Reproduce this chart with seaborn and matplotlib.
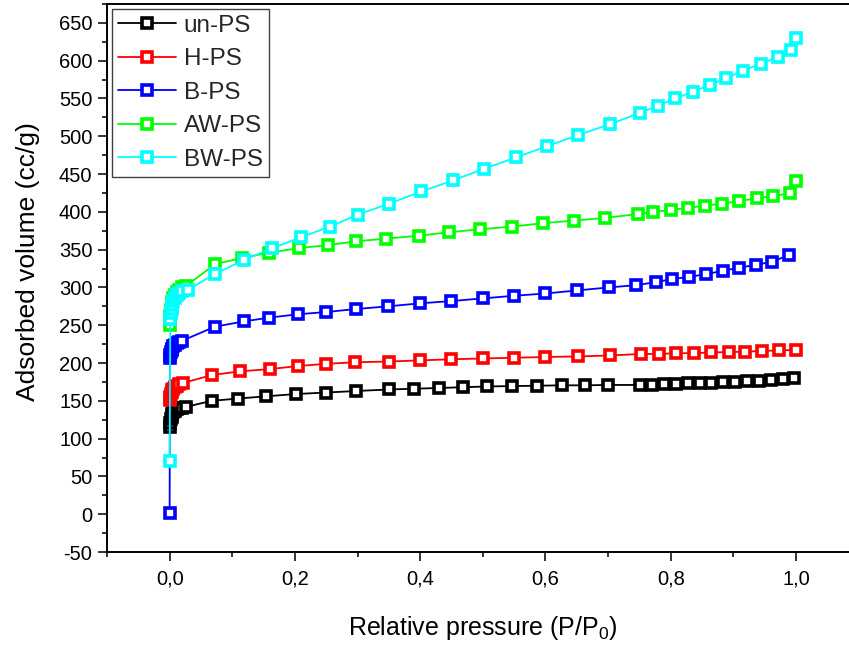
import matplotlib
matplotlib.use("Agg")
import matplotlib.pyplot as plt
import seaborn as sns
from matplotlib.ticker import MultipleLocator, FuncFormatter

# ---------------------------------------------------------
# data
# ---------------------------------------------------------
p_un = [0.0005, 0.001, 0.002, 0.003, 0.004, 0.006, 0.008, 0.011, 0.015, 0.020, 0.026,
        0.067, 0.109, 0.154, 0.202, 0.250, 0.298, 0.350, 0.390, 0.430, 0.468, 0.507,
        0.546, 0.586, 0.626, 0.663, 0.700, 0.751, 0.770, 0.789, 0.808, 0.827, 0.846,
        0.865, 0.884, 0.903, 0.922, 0.941, 0.960, 0.979, 0.997]
v_un = [116, 121, 126, 129, 132, 135, 137, 139, 140, 141, 142,
        150, 153, 156, 159, 161, 163, 165, 166, 167, 168, 169,
        169.5, 170, 170.5, 170.5, 171, 171, 171.5, 172, 172.5, 173, 173.5,
        174, 174.7, 175.3, 176, 176.8, 177.5, 178.3, 180]

p_h = [0.0005, 0.001, 0.002, 0.003, 0.004, 0.006, 0.008, 0.011, 0.015, 0.021,
       0.067, 0.112, 0.160, 0.205, 0.250, 0.296, 0.350, 0.400, 0.450, 0.500, 0.550,
       0.600, 0.652, 0.703, 0.753, 0.781, 0.809, 0.837, 0.865, 0.893, 0.918, 0.945,
       0.973, 1.000]
v_h = [151, 155, 159, 162, 164, 166, 168, 170, 172, 173.5,
       184, 189, 192, 196, 199, 201, 202, 203.5, 205, 206, 207,
       208, 208.7, 210, 212, 212, 213, 213, 214, 214.5, 215, 216,
       216.6, 217.5]

p_b = [0.0, 0.0005, 0.001, 0.002, 0.003, 0.004, 0.006, 0.008, 0.011, 0.015, 0.020,
       0.072, 0.118, 0.158, 0.205, 0.250, 0.298, 0.349, 0.400, 0.450, 0.500, 0.550,
       0.600, 0.650, 0.701, 0.745, 0.776, 0.802, 0.829, 0.856, 0.883, 0.909, 0.936,
       0.962, 0.989]
v_b = [2, 206, 210, 214, 217, 219, 222, 224, 226, 228, 229.5,
       248, 255, 260, 264.5, 267.5, 271.5, 275, 279, 282, 285.5, 289,
       292, 296, 300, 303, 307, 311, 314, 317.5, 322, 326, 330,
       334, 343]

p_aw = [0.0005, 0.001, 0.002, 0.003, 0.004, 0.006, 0.008, 0.011, 0.015, 0.020, 0.026,
        0.073, 0.116, 0.159, 0.206, 0.253, 0.297, 0.345, 0.398, 0.446, 0.496, 0.547,
        0.596, 0.646, 0.695, 0.747, 0.772, 0.801, 0.828, 0.854, 0.882, 0.909, 0.937,
        0.964, 0.990, 1.000]
v_aw = [250, 262, 270, 276, 281, 286, 290, 294, 297, 300, 302,
        331, 339, 346, 352, 356, 361, 364.5, 368.5, 373, 377, 380.5,
        385, 388.5, 392, 397, 400, 402.5, 405.5, 408, 411, 414, 418,
        421, 424.5, 441]

p_bw = [0.0, 0.001, 0.002, 0.003, 0.004, 0.006, 0.008, 0.011, 0.015, 0.020, 0.029,
        0.073, 0.119, 0.164, 0.210, 0.256, 0.301, 0.351, 0.402, 0.452, 0.502, 0.553,
        0.603, 0.652, 0.703, 0.751, 0.779, 0.807, 0.835, 0.863, 0.889, 0.916, 0.944,
        0.972, 0.992, 1.000]
v_bw = [70, 258, 266, 272, 277, 282, 286, 290, 293, 295, 297,
        318, 336.5, 352, 366.5, 380.5, 396.5, 411, 427, 441.5, 457, 472,
        487, 501.5, 516, 531, 540, 550, 559, 568, 577, 587, 596,
        605, 614, 630.5]

labels = ["un-PS", "H-PS", "B-PS", "AW-PS", "BW-PS"]
colors = ["#000000", "#FF0000", "#0000FF", "#00FF00", "#00FFFF"]
series = [(p_un, v_un), (p_h, v_h), (p_b, v_b), (p_aw, v_aw), (p_bw, v_bw)]

# ---------------------------------------------------------
# style
# ---------------------------------------------------------
sns.set_theme(style="ticks")
plt.rcParams["font.family"] = ["Liberation Sans", "DejaVu Sans"]
plt.rcParams["mathtext.default"] = "regular"

fig = plt.figure(figsize=(8.49, 6.46), dpi=100)
ax = fig.add_axes([107 / 849, 94 / 646, 751.6 / 849, 548 / 646])

for (px, vy), lab, col in zip(series, labels, colors):
    sns.lineplot(x=px, y=vy, ax=ax, color=col, label=lab, sort=False,
                 estimator=None, linewidth=1.3, marker="s", markersize=7.5,
                 markerfacecolor="white", markeredgecolor=col,
                 markeredgewidth=2.6)

ax.set_xlim(-0.1, 1.1)
ax.set_ylim(-50, 675)

ax.xaxis.set_major_locator(MultipleLocator(0.2))
ax.xaxis.set_minor_locator(MultipleLocator(0.1))
ax.yaxis.set_major_locator(MultipleLocator(50))
ax.yaxis.set_minor_locator(MultipleLocator(25))
ax.xaxis.set_major_formatter(FuncFormatter(lambda v, _: f"{v:.1f}".replace(".", ",")))
ax.yaxis.set_major_formatter(FuncFormatter(lambda v, _: f"{v:.0f}"))

ax.tick_params(which="major", direction="out", length=6.5, width=1.1,
               labelsize=14.5, color="black", labelcolor="black", pad=4)
ax.tick_params(which="minor", direction="out", length=3.5, width=1.1, color="black")
ax.tick_params(axis="x", which="major", pad=6)

for side in ["left", "bottom", "top"]:
    ax.spines[side].set_linewidth(1.4)
    ax.spines[side].set_color("black")
ax.spines["right"].set_visible(False)

ax.set_xlabel("Relative pressure (P/P$_0$)", fontsize=18, color="black")
ax.set_ylabel("Adsorbed volume (cc/g)", fontsize=19, color="black")
ax.xaxis.set_label_coords(0.5, -0.113)
ax.yaxis.set_label_coords(-0.089, 0.53)

leg = ax.legend(loc="upper left", bbox_to_anchor=(0.0, 1.0), fontsize=17.5,
                frameon=True, fancybox=False, edgecolor="#404040",
                handlelength=2.4, handletextpad=0.3, labelspacing=0.47,
                borderpad=0.25, borderaxespad=0.2, framealpha=1)
leg.get_frame().set_linewidth(1.0)

fig.savefig("out.png", dpi=100)
